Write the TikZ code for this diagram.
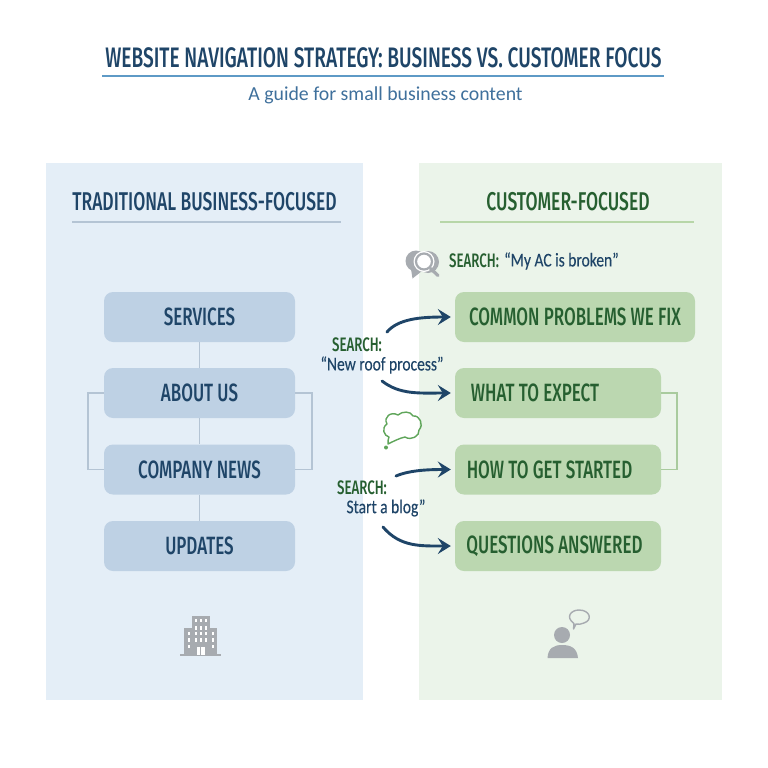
\documentclass[tikz,border=0pt]{standalone}
\usepackage{fontspec}
\setmainfont{Carlito}
\newfontfamily\cond[FakeStretch=0.68]{Fira Sans Medium}
\newfontfamily\narrowtext[FakeStretch=0.8,FakeBold=0.25]{Carlito}
\usetikzlibrary{arrows.meta,calc}
\definecolor{navy}{HTML}{1F4568}
\definecolor{forest}{HTML}{265F30}
\definecolor{bluepanel}{HTML}{E4EEF7}
\definecolor{greenpanel}{HTML}{EBF4EA}
\definecolor{bluebox}{HTML}{BED1E4}
\definecolor{greenbox}{HTML}{BBD7B0}
\definecolor{ruleblue}{HTML}{5E9AC6}
\definecolor{rulegreen}{HTML}{B7D6A8}
\definecolor{linkblue}{HTML}{B4C4D4}
\definecolor{linkgreen}{HTML}{A9CB9E}
\definecolor{icongray}{HTML}{A7ABB0}
\definecolor{bubblegreen}{HTML}{5FA55A}
\definecolor{subblue}{HTML}{3F709C}
\tikzset{
  x=1pt,y=-1pt,
  navbox/.style={rounded corners=9pt,minimum height=50pt,inner sep=0pt,font=\cond\fontsize{25}{25}\selectfont},
  bluenav/.style={navbox,fill=bluebox,text=navy,minimum width=191pt},
  greennav/.style={navbox,fill=greenbox,text=forest,minimum width=206pt},
  heading/.style={font=\cond\fontsize{25.7}{25.7}\selectfont,inner sep=0pt},
  searchkey/.style={font=\cond\fontsize{19.5}{19.5}\selectfont,text=forest,inner sep=0pt},
  searchval/.style={font=\narrowtext\fontsize{19.4}{19.4}\selectfont,text=navy,inner sep=0pt},
  bluelink/.style={draw=linkblue,line width=1.1pt},
  greenlink/.style={draw=linkgreen,line width=1.1pt},
  jump/.style={draw=navy,line width=2.9pt,line cap=round,-{Stealth[length=13pt,width=16pt,inset=5pt]},shorten >=4pt},
}
\begin{document}
\begin{tikzpicture}
\useasboundingbox (0,0) rectangle (768,768);
\fill[white] (0,0) rectangle (768,768);
% title
\node[font=\cond\fontsize{28.2}{28.2}\selectfont,text=navy,inner sep=0pt] (title) at (383.5,58) {WEBSITE NAVIGATION STRATEGY: BUSINESS VS. CUSTOMER FOCUS};
\draw[ruleblue,line width=1.5pt] (102,76) -- (664,76);
\node[font=\fontsize{19.8}{19.8}\selectfont,text=subblue,inner sep=0pt] (subtitle) at (385.5,95) {A guide for small business content};
% panels
\fill[bluepanel] (46,163) rectangle (363,700);
\fill[greenpanel] (419,163) rectangle (722,700);
\node[heading,text=navy] (lefthead) at (204.5,202) {TRADITIONAL BUSINESS-FOCUSED};
\draw[linkblue,line width=1.2pt] (72,222) -- (341,222);
\node[heading,text=forest] (righthead) at (568,202) {CUSTOMER-FOCUSED};
\draw[rulegreen,line width=1.2pt] (440,222) -- (694,222);
% left nodes
\node[bluenav] (services) at (199.5,317) {SERVICES};
\node[bluenav] (about) at (199.5,393) {ABOUT US};
\node[bluenav] (news) at (199.5,469.5) {COMPANY NEWS};
\node[bluenav] (updates) at (199.5,546) {UPDATES};
\draw[bluelink] (services) -- (about);
\draw[bluelink] (about) -- (news);
\draw[bluelink] (news) -- (updates);
\coordinate (lbl) at (88,393); \coordinate (lbb) at (88,469.5);
\coordinate (rbl) at (312,393); \coordinate (rbb) at (312,469.5);
\draw[bluelink] (about.west) -- (lbl) -- (lbb) -- (news.west);
\draw[bluelink] (about.east) -- (rbl) -- (rbb) -- (news.east);
% right nodes
\node[greennav,minimum width=240pt] (problems) at (575,317) {COMMON PROBLEMS WE FIX};
\node[greennav] (expect) at (558,393) {\hspace*{-46pt}WHAT TO EXPECT};
\node[greennav] (started) at (558,469.5) {\hspace*{-17pt}HOW TO GET STARTED};
\node[greennav] (questions) at (558,546) {\hspace*{-7pt}QUESTIONS ANSWERED};
\coordinate (gbt) at (677,393); \coordinate (gbb) at (677,469.5);
\draw[greenlink] (expect.east) -- (gbt) -- (gbb) -- (started.east);
% search labels
\node[searchkey,anchor=west] (s1k) at (449,261) {SEARCH:};
\node[searchval,anchor=west] (s1v) at (504,261) {“My AC is broken”};
\node[searchkey] (s2k) at (357,345) {SEARCH:};
\node[searchval] (s2v) at (382,365) {“New roof process”};
\node[searchkey] (s3k) at (362,488) {SEARCH:};
\node[searchval] (s3v) at (386,508) {Start a blog”};
% arrows
\coordinate (a1) at (387,332); \coordinate (a2) at (382,381);
\coordinate (a3) at (396,476); \coordinate (a4) at (383,527);
\draw[jump] (a1) .. controls (398,319) and (420,317) .. (problems.west);
\draw[jump] (a2) .. controls (400,395) and (420,393) .. (expect.west);
\draw[jump] (a3) .. controls (410,470) and (430,469.5) .. (started.west);
\draw[jump] (a4) .. controls (400,547) and (420,546) .. (questions.west);
% magnifier + bubbles icon
\fill[icongray] (416,261) circle (10.5);
\fill[icongray] (411,269) -- (412.5,278.5) -- (422,271) -- cycle;
\fill[icongray] (428,262) circle (11);
\fill[white] (424,261.5) circle (10.5);
\draw[icongray,line width=2.2pt] (424,261.5) circle (8);
\draw[icongray,line width=3.2pt,line cap=round] (430.5,268.5) -- (438,275.5);
% thought bubble
\draw[bubblegreen,line width=1.4pt,line join=round]
  (388,444) .. controls (388,441) and (388,439) .. (389,437)
  .. controls (384,436) and (381,428) .. (387,424)
  .. controls (383,417) and (391,411) .. (398,415)
  .. controls (402,411) and (411,411) .. (413,416)
  .. controls (420,415) and (424,425) .. (419,430)
  .. controls (420,436) and (411,441) .. (405,437)
  .. controls (400,438) and (394,441) .. (388,444) -- cycle;
\fill[bubblegreen] (386,447.5) circle (2);
% building icon
\fill[icongray] (192,616) rectangle (210,630);
\fill[icongray] (184,628) rectangle (217,655);
\fill[icongray] (180,654) rectangle (221,656);
\foreach \wx in {196,201,206} \foreach \wy in {620.5,628} \fill[white] (\wx-1.4,\wy-1.6) rectangle (\wx+1.4,\wy+1.6);
\foreach \wx in {189,196,201,206,213} \foreach \wy in {633.5,640} \fill[white] (\wx-1.4,\wy-1.6) rectangle (\wx+1.4,\wy+1.6);
\foreach \wx in {189,213} \fill[white] (\wx-1.4,645) rectangle (\wx+1.4,648);
\fill[white] (196.5,646.5) rectangle (200,655);
\fill[white] (201,646.5) rectangle (205,655);
% person icon
\fill[icongray] (562,635) circle (8);
\fill[icongray] (547.5,658) .. controls (548,648) and (554,645) .. (562,645) .. controls (571,645) and (577,648) .. (578,658) -- cycle;
\draw[icongray,line width=1.4pt,line join=round,fill=greenpanel] (574,623.5) .. controls (565,617) and (571,610) .. (579,610) .. controls (590,610) and (593,620) .. (584,623) .. controls (581,624.5) and (578,624.5) .. (576,624) -- (573.5,629) -- cycle;
\end{tikzpicture}
\end{document}
